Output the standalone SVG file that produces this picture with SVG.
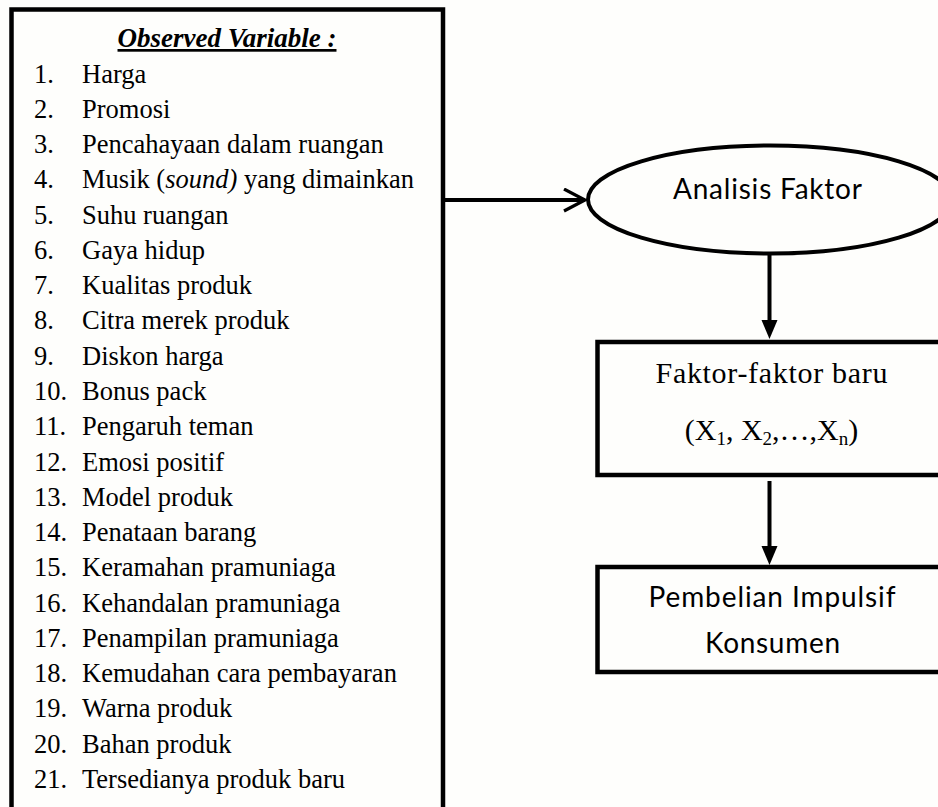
<svg xmlns="http://www.w3.org/2000/svg" width="938" height="807" viewBox="0 0 938 807">
  <style>
    .box { fill: none; stroke: #000; stroke-width: 4.5; }
    .list { font-family: "Liberation Serif", "Times New Roman", serif; font-size: 26.5px; fill: #000; }
    .serif { font-family: "Liberation Serif", "Times New Roman", serif; fill: #000; }
    .sans { font-family: Lato, "Open Sans", "Liberation Sans", sans-serif; font-size: 28px; fill: #000; }
    .conn { fill: none; stroke: #000; stroke-width: 4; }
  </style>
  <defs>
    <marker id="tri" markerUnits="userSpaceOnUse" markerWidth="20" markerHeight="18" refX="11" refY="8.5" orient="auto">
      <path d="M0,0.5 L19,8.5 L0,16.5 z" fill="#000"/>
    </marker>
    <marker id="chev" markerUnits="userSpaceOnUse" markerWidth="26" markerHeight="28" refX="22" refY="12" orient="auto">
      <path d="M1,1 L22,12 L1,23" fill="none" stroke="#000" stroke-width="3.2" stroke-linejoin="miter"/>
    </marker>
  </defs>
  <rect x="0" y="0" width="938" height="807" fill="#fefefc"/>

  <g id="observed-variables">
    <rect class="box" x="11.5" y="9.5" width="431.5" height="830"/>
    <text class="serif" x="227" y="47" font-size="27" font-weight="bold" font-style="italic" text-anchor="middle" text-decoration="underline">Observed Variable :</text>
    <g class="list">
      <text x="34" y="82.5">1.</text><text x="82" y="82.5">Harga</text>
      <text x="34" y="117.8">2.</text><text x="82" y="117.8">Promosi</text>
      <text x="34" y="153">3.</text><text x="82" y="153">Pencahayaan dalam ruangan</text>
      <text x="34" y="188.3">4.</text><text x="82" y="188.3">Musik (<tspan font-style="italic">sound)</tspan> yang dimainkan</text>
      <text x="34" y="223.6">5.</text><text x="82" y="223.6">Suhu ruangan</text>
      <text x="34" y="258.9">6.</text><text x="82" y="258.9">Gaya hidup</text>
      <text x="34" y="294.1">7.</text><text x="82" y="294.1">Kualitas produk</text>
      <text x="34" y="329.4">8.</text><text x="82" y="329.4">Citra merek produk</text>
      <text x="34" y="364.7">9.</text><text x="82" y="364.7">Diskon harga</text>
      <text x="34" y="399.9">10.</text><text x="82" y="399.9">Bonus pack</text>
      <text x="34" y="435.2">11.</text><text x="82" y="435.2">Pengaruh teman</text>
      <text x="34" y="470.5">12.</text><text x="82" y="470.5">Emosi positif</text>
      <text x="34" y="505.7">13.</text><text x="82" y="505.7">Model produk</text>
      <text x="34" y="541">14.</text><text x="82" y="541">Penataan barang</text>
      <text x="34" y="576.3">15.</text><text x="82" y="576.3">Keramahan pramuniaga</text>
      <text x="34" y="611.6">16.</text><text x="82" y="611.6">Kehandalan pramuniaga</text>
      <text x="34" y="646.8">17.</text><text x="82" y="646.8">Penampilan pramuniaga</text>
      <text x="34" y="682.1">18.</text><text x="82" y="682.1">Kemudahan cara pembayaran</text>
      <text x="34" y="717.4">19.</text><text x="82" y="717.4">Warna produk</text>
      <text x="34" y="752.6">20.</text><text x="82" y="752.6">Bahan produk</text>
      <text x="34" y="787.9">21.</text><text x="82" y="787.9">Tersedianya produk baru</text>
    </g>
  </g>

  <g id="analisis-faktor">
    <ellipse cx="770" cy="199.5" rx="182" ry="54" fill="none" stroke="#000" stroke-width="4"/>
    <text class="sans" x="767.5" y="198.5" text-anchor="middle" textLength="189">Analisis Faktor</text>
  </g>

  <g id="faktor-baru">
    <rect class="box" x="597.5" y="342" width="360" height="133"/>
    <text class="serif" x="771.5" y="382.5" font-size="30" text-anchor="middle" textLength="232">Faktor-faktor baru</text>
    <text class="serif" x="771.5" y="440" font-size="30" text-anchor="middle">(X<tspan font-size="19" dy="5">1</tspan><tspan dy="-5">, X</tspan><tspan font-size="19" dy="5">2</tspan><tspan dy="-5">,…,X</tspan><tspan font-size="19" dy="5">n</tspan><tspan dy="-5">)</tspan></text>
  </g>

  <g id="pembelian-impulsif">
    <rect class="box" x="597.5" y="567" width="360" height="105"/>
    <text class="sans" x="772" y="607.3" text-anchor="middle" textLength="247">Pembelian Impulsif</text>
    <text class="sans" x="772.5" y="653" text-anchor="middle" textLength="135">Konsumen</text>
  </g>

  <g id="connectors">
    <line class="conn" x1="443" y1="200" x2="585" y2="200" stroke-width="3.5" marker-end="url(#chev)"/>
    <line class="conn" x1="769.5" y1="253" x2="769.5" y2="331" marker-end="url(#tri)"/>
    <line class="conn" x1="769.5" y1="481" x2="769.5" y2="557" marker-end="url(#tri)"/>
  </g>
</svg>
